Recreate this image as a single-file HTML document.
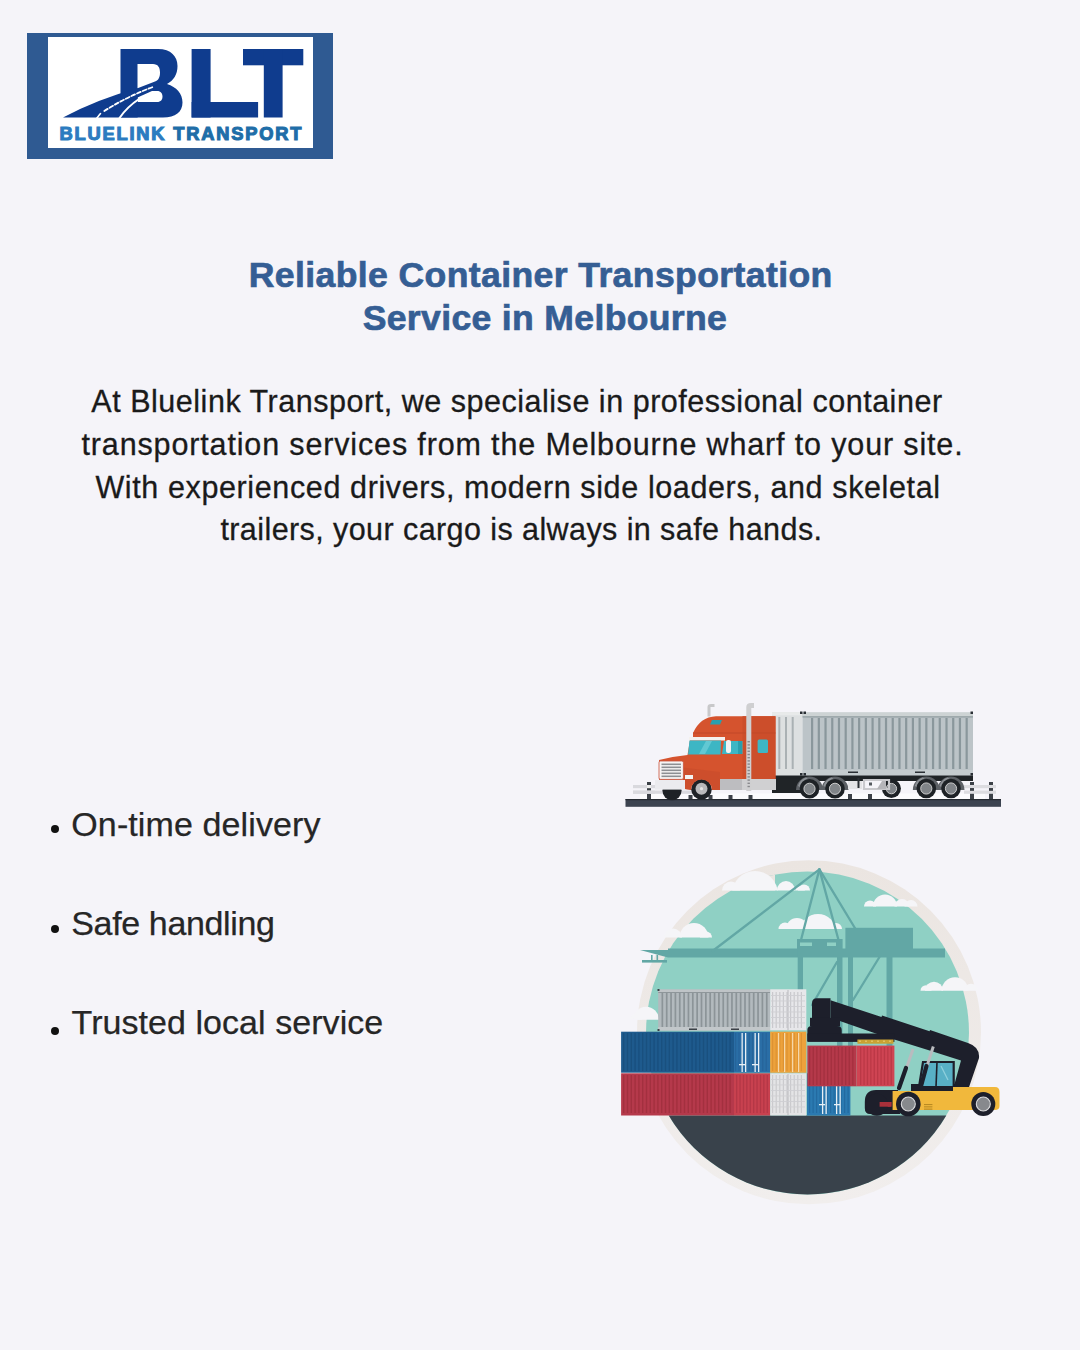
<!DOCTYPE html>
<html><head><meta charset="utf-8">
<style>
html,body{margin:0;padding:0;}
body{width:1080px;height:1350px;background:#f5f4f9;position:relative;overflow:hidden;font-family:"Liberation Sans",sans-serif;}
.abs{position:absolute;white-space:nowrap;}
.h{color:#355e94;font-weight:bold;font-size:35.6px;line-height:1;-webkit-text-stroke:0.7px #355e94;}
.p{color:#1a1a1a;font-size:30.5px;line-height:1;-webkit-text-stroke:0.3px #1a1a1a;}
.li{color:#262626;font-size:34px;line-height:1;-webkit-text-stroke:0.25px #262626;}
.dot{position:absolute;width:8.4px;height:8.2px;border-radius:50%;background:#111;}
</style></head>
<body>
<!-- logo -->
<svg class="abs" style="left:0;top:0" width="1080" height="1350" viewBox="0 0 1080 1350">
<rect x="27" y="33" width="306" height="126" fill="#2f5a92"/>
<rect x="48" y="37" width="265" height="111" fill="#ffffff"/>
<g fill="#0f3c8e">
<path fill-rule="evenodd" d="M120.5,49 H158 C171,49 177.5,56.5 177.5,66 C177.5,74.5 173.5,80.5 167,84 C176.5,87 182.5,93.5 182.5,102.5 C182.5,112 175.5,117.5 163,117.5 H120.5 Z M137.5,64 H153 C158,64 160,67.5 160,72.5 C160,77 158.5,80.5 155,81.5 L137.5,88.3 Z M137.5,97.5 L152,91 H157 C161,91 162.5,93.5 162.5,96.5 C162.5,99.5 161,102 157,102 H137.5 Z"/>
<path d="M63,117.5 Q98,99 137.6,88.3 L137.6,117.5 Z"/>
<rect x="191.6" y="49" width="19" height="68.5"/>
<rect x="191.6" y="102" width="66.5" height="15.5"/>
<rect x="243" y="49" width="60.3" height="16.3"/>
<rect x="263.8" y="49" width="18.8" height="68.5"/>
</g>
<g stroke="#ffffff" fill="none" stroke-linecap="round">
<path d="M119.5,118 Q127,107 139,99" stroke-width="2"/>
<path d="M104.3,111 Q127,96.5 153,87" stroke-width="1.8" stroke-dasharray="4 2.2"/>
<path d="M96.5,118.5 L100.5,113.5" stroke-width="1.6"/>
</g>
<text x="59.5" y="139.5" font-family="Liberation Sans" font-weight="bold" font-size="18.3" fill="#2b7cc0" stroke="#2b7cc0" stroke-width="1.1" letter-spacing="1.8">BLUELINK <tspan fill="#1f6ea8" stroke="#1f6ea8">TRANSPORT</tspan></text>
</svg>

<!-- truck -->
<svg class="abs" style="left:0;top:0" width="1080" height="1350" viewBox="0 0 1080 1350">
<!-- light band -->
<rect x="640" y="793.5" width="345" height="5.5" fill="#fbfbfd"/>
<!-- left rail -->
<rect x="633" y="785" width="60" height="3.2" fill="#d9d9de"/>
<rect x="633" y="790.6" width="60" height="3.2" fill="#d9d9de"/>
<rect x="647" y="782" width="4" height="17" fill="#3c4148"/>
<rect x="647" y="785" width="4" height="3.2" fill="#eeeeee"/>
<rect x="647" y="790.6" width="4" height="3.2" fill="#eeeeee"/>
<!-- right rail -->
<rect x="970" y="782" width="4" height="17" fill="#3c4148"/>
<rect x="989" y="782" width="4" height="17" fill="#3c4148"/>
<rect x="964" y="785" width="32" height="3.2" fill="#dcdce0"/>
<rect x="964" y="790.6" width="32" height="3.2" fill="#dcdce0"/>
<g fill="#3c4148"><rect x="970" y="783.6" width="4" height="1.4"/><rect x="989" y="783.6" width="4" height="1.4"/><rect x="970" y="788.2" width="4" height="2.4"/><rect x="989" y="788.2" width="4" height="2.4"/></g>
<!-- posts -->
<g fill="#3c4148">
<rect x="688.5" y="795" width="4" height="4"/><rect x="708.5" y="795" width="4" height="4"/><rect x="728.5" y="795" width="4" height="4"/><rect x="748.5" y="795" width="4" height="4"/>
<rect x="848" y="794" width="4" height="5"/><rect x="868" y="794" width="4" height="5"/>
</g>
<!-- road -->
<rect x="625.5" y="799" width="375.5" height="7.8" fill="#3c4350"/>
<rect x="625.5" y="799" width="375.5" height="1.2" fill="#252a31"/>
<!-- containers -->
<rect x="772" y="712.3" width="30.5" height="63.5" fill="#dde0e1"/>
<rect x="778.30" y="717" width="2" height="52" fill="#aab1b4"/><rect x="785.00" y="717" width="2" height="52" fill="#aab1b4"/><rect x="791.70" y="717" width="2" height="52" fill="#aab1b4"/>
<rect x="772" y="712.3" width="30.5" height="3" fill="#e8eaea"/>
<rect x="802.5" y="712.5" width="170.5" height="63" fill="#bcc4c8"/>
<rect x="802.5" y="712.5" width="170.5" height="4" fill="#cdd3d4"/>
<rect x="802.5" y="716.3" width="170.5" height="1.2" fill="#8e9a9e"/>
<rect x="802.5" y="770" width="170.5" height="5.5" fill="#c5cccf"/>
<rect x="811.00" y="718" width="2.2" height="51" fill="#8a979c"/><rect x="817.72" y="718" width="2.2" height="51" fill="#8a979c"/><rect x="824.44" y="718" width="2.2" height="51" fill="#8a979c"/><rect x="831.16" y="718" width="2.2" height="51" fill="#8a979c"/><rect x="837.88" y="718" width="2.2" height="51" fill="#8a979c"/><rect x="844.60" y="718" width="2.2" height="51" fill="#8a979c"/><rect x="851.32" y="718" width="2.2" height="51" fill="#8a979c"/><rect x="858.04" y="718" width="2.2" height="51" fill="#8a979c"/><rect x="864.76" y="718" width="2.2" height="51" fill="#8a979c"/><rect x="871.48" y="718" width="2.2" height="51" fill="#8a979c"/><rect x="878.20" y="718" width="2.2" height="51" fill="#8a979c"/><rect x="884.92" y="718" width="2.2" height="51" fill="#8a979c"/><rect x="891.64" y="718" width="2.2" height="51" fill="#8a979c"/><rect x="898.36" y="718" width="2.2" height="51" fill="#8a979c"/><rect x="905.08" y="718" width="2.2" height="51" fill="#8a979c"/><rect x="911.80" y="718" width="2.2" height="51" fill="#8a979c"/><rect x="918.52" y="718" width="2.2" height="51" fill="#8a979c"/><rect x="925.24" y="718" width="2.2" height="51" fill="#8a979c"/><rect x="931.96" y="718" width="2.2" height="51" fill="#8a979c"/><rect x="938.68" y="718" width="2.2" height="51" fill="#8a979c"/><rect x="945.40" y="718" width="2.2" height="51" fill="#8a979c"/><rect x="952.12" y="718" width="2.2" height="51" fill="#8a979c"/><rect x="958.84" y="718" width="2.2" height="51" fill="#8a979c"/><rect x="965.56" y="718" width="2.2" height="51" fill="#8a979c"/>
<g fill="#2a2f35">
<rect x="800" y="711.5" width="2.5" height="2.5"/><rect x="803.5" y="711.5" width="2.5" height="2.5"/><rect x="970.5" y="711.5" width="2.5" height="2.5"/>
<rect x="800" y="773" width="2.5" height="2.5"/><rect x="803.5" y="773" width="2.5" height="2.5"/><rect x="970.5" y="773" width="2.5" height="2.5"/>
<rect x="848" y="771.5" width="10" height="1.5"/><rect x="915" y="771.5" width="10" height="1.5"/>
</g>
<!-- chassis -->
<rect x="772" y="775.5" width="201" height="5.5" fill="#1f2326"/>
<rect x="772" y="779" width="40" height="14" fill="#202427"/>

<!-- wheels -->
<g fill="#5d6166">
<path d="M796,790 A13.5,13.5 0 0 1 823,790 Z"/>
<path d="M821.5,790 A13.5,13.5 0 0 1 848.5,790 Z"/>
<path d="M912.8,790 A13.5,13.5 0 0 1 939.8,790 Z"/>
<path d="M937.5,790 A13.5,13.5 0 0 1 964.5,790 Z"/>
</g>
<g fill="#8d9196">
<path d="M798,786 A12,12 0 0 1 806,777.5 L808,779 A10,10 0 0 0 800,787 Z"/>
<path d="M823.5,786 A12,12 0 0 1 831.5,777.5 L833.5,779 A10,10 0 0 0 825.5,787 Z"/>
<path d="M914.8,786 A12,12 0 0 1 922.8,777.5 L924.8,779 A10,10 0 0 0 916.8,787 Z"/>
<path d="M939.5,786 A12,12 0 0 1 947.5,777.5 L949.5,779 A10,10 0 0 0 941.5,787 Z"/>
</g>
<g fill="#1e2226">
<circle cx="672" cy="790.6" r="9.6"/>
<circle cx="701.5" cy="789.3" r="10.3"/>
<circle cx="809.5" cy="788.8" r="9.8"/><circle cx="835" cy="788.8" r="9.8"/>
<circle cx="891.4" cy="788.6" r="9.5"/>
<circle cx="926.3" cy="788.5" r="9.8"/><circle cx="951" cy="788.5" r="9.8"/>
</g>
<g fill="#808488" stroke="#d8d8d8" stroke-width="0.9">
<circle cx="809.5" cy="788.8" r="5.6"/><circle cx="835" cy="788.8" r="5.6"/>
<circle cx="891.4" cy="788.6" r="5.2"/>
<circle cx="926.3" cy="788.5" r="5.6"/><circle cx="951" cy="788.5" r="5.6"/>
</g>
<circle cx="701.5" cy="788.7" r="6" fill="#b9b9bb"/>
<circle cx="701.5" cy="788.7" r="1.6" fill="#e6e6e6"/>
<rect x="848" y="781" width="14" height="8" fill="#e4e4e6"/>
<rect x="857.5" y="778" width="2" height="10" fill="#2a2e33"/>
<path d="M864,780 L889,780 L889,789 L864,789 Z" fill="none" stroke="#c9c9cd" stroke-width="2.2"/>
<path d="M877,789 L882,781 L886,781 L886,789 Z" fill="#b5b5b9"/>
<rect x="869" y="782.5" width="3" height="3" fill="#555a60"/>
<!-- bumper -->
<rect x="655" y="780" width="36" height="9.6" fill="#ebebef"/>
<rect x="633" y="790.6" width="22" height="3.2" fill="#d9d9de"/>
<!-- cab -->
<path d="M693,733 Q700,717 716,716.2 L775.5,716.2 L775.5,779 L720,779 L720,790 L712,790 A10.5,10.5 0 0 0 691,790 L685,789 L685,780 L659,780 L659,760 Q672,756.5 687.5,755 L690,740 L693,738 Z" fill="#d5532e"/>
<path d="M659,766 L687,768 L720,772 L720,790 L712,790 A10.5,10.5 0 0 0 691,790 L685,789 L685,780 L659,780 Z" fill="#c54a29" opacity="0.5"/>
<rect x="742.5" y="716.2" width="33" height="63" fill="#cc4e2b"/>
<path d="M693,733 L775.5,733" stroke="#c14829" stroke-width="1"/>
<rect x="689" y="737" width="36" height="3.5" fill="#f4f1ee"/>
<path d="M689.5,740.5 L721,740.5 L720.5,754.5 L688,754.5 Z" fill="#3db6c4"/><path d="M706,741 L712,741 L705,754 L699,754 Z" fill="#62c8d3"/>
<path d="M724,741 L742.5,741 L742.5,754 L722,754 Z" fill="#3db6c4"/>
<rect x="738" y="741" width="4" height="13" fill="#2a9fae"/>
<rect x="757.6" y="739.5" width="10.4" height="13.5" rx="1.5" fill="#3db6c4"/>
<rect x="726" y="740" width="5" height="13" rx="2" fill="#f2f2f2"/>
<path d="M712,720 L722,720 L720,724.5 L710,724.5 Z" fill="#2a9fae"/>
<rect x="720" y="779" width="56" height="11" fill="#d0d0d2"/>
<rect x="720" y="779" width="22" height="11" fill="#bdbdc0"/>
<!-- grille -->
<rect x="659" y="761" width="24.4" height="18.4" rx="1.5" fill="#f6f4f4" stroke="#c9503a" stroke-width="0.8"/>
<g fill="#8d8f93"><rect x="661.5" y="763.5" width="19.5" height="1.6"/><rect x="661.5" y="766.5" width="19.5" height="1.6"/><rect x="661.5" y="769.5" width="19.5" height="1.6"/><rect x="661.5" y="772.5" width="19.5" height="1.6"/><rect x="661.5" y="775.5" width="19.5" height="1.6"/></g>
<rect x="685" y="775" width="8" height="4" fill="#f3f3f3"/>
<!-- stacks -->
<path d="M709,716.5 L709,707 Q709,705.5 711,705.5 L714.5,705.5" stroke="#c8c8ca" stroke-width="3" fill="none"/>
<path d="M748.8,791 L748.8,707 Q748.8,705.5 751,705.5 L754,705.5" stroke="#cfcfd1" stroke-width="5" fill="none"/>
<g fill="#8a8a8e"><rect x="747.5" y="741.0" width="2.4" height="1.4"/><rect x="747.5" y="744.2" width="2.4" height="1.4"/><rect x="747.5" y="747.4" width="2.4" height="1.4"/><rect x="747.5" y="750.6" width="2.4" height="1.4"/><rect x="747.5" y="753.8" width="2.4" height="1.4"/><rect x="747.5" y="757.0" width="2.4" height="1.4"/><rect x="747.5" y="760.2" width="2.4" height="1.4"/><rect x="747.5" y="763.4" width="2.4" height="1.4"/><rect x="747.5" y="766.6" width="2.4" height="1.4"/><rect x="747.5" y="769.8" width="2.4" height="1.4"/><rect x="747.5" y="773.0" width="2.4" height="1.4"/><rect x="747.5" y="776.2" width="2.4" height="1.4"/><rect x="747.5" y="779.4" width="2.4" height="1.4"/><rect x="747.5" y="782.6" width="2.4" height="1.4"/><rect x="747.5" y="785.8" width="2.4" height="1.4"/></g>
</svg>
<!-- port -->
<svg class="abs" style="left:0;top:0" width="1080" height="1350" viewBox="0 0 1080 1350">
<defs><clipPath id="circ"><circle cx="807.5" cy="1033" r="161.5"/></clipPath></defs>
<linearGradient id="bg1" x1="0" y1="0" x2="0" y2="1"><stop offset="0" stop-color="#ebe5e1"/><stop offset="1" stop-color="#f1eeed"/></linearGradient><circle cx="809" cy="1032.3" r="172" fill="url(#bg1)"/>
<circle cx="807.5" cy="1033" r="161.5" fill="#8fd0c4"/>
<path d="M600,850 L775,850 L775,890.5 L600,890.5 Z" fill="#ebe5e1" clip-path="url(#circ)"/>
<clipPath id="c1"><rect x="720" y="830.5" width="92" height="60"/></clipPath><g fill="#f5f5f8" clip-path="url(#c1)"><circle cx="731" cy="890.5" r="9"/><circle cx="755" cy="894" r="23"/><circle cx="786" cy="890" r="9"/><circle cx="800" cy="891.5" r="5"/><circle cx="804" cy="890.5" r="6"/></g>
<clipPath id="c2"><rect x="662" y="877.5" width="52" height="60"/></clipPath><g fill="#f5f5f8" clip-path="url(#c2)"><circle cx="673" cy="937.5" r="9"/><circle cx="694" cy="937.5" r="14.5"/><circle cx="706" cy="937.5" r="6"/></g>
<clipPath id="c3"><rect x="776.5" y="869" width="67.5" height="60"/></clipPath><g fill="#f5f5f8" clip-path="url(#c3)"><circle cx="785" cy="929" r="6.5"/><circle cx="797" cy="929" r="11"/><circle cx="818" cy="932" r="18"/><circle cx="836" cy="929" r="6"/></g>
<clipPath id="c4"><rect x="862" y="846.5" width="57.5" height="60"/></clipPath><g fill="#f5f5f8" clip-path="url(#c4)"><circle cx="870" cy="906.5" r="6"/><circle cx="885" cy="906.5" r="12"/><circle cx="902" cy="906.5" r="7.5"/><circle cx="911" cy="906.5" r="6.5"/></g>
<clipPath id="c5"><rect x="918.5" y="930.7" width="61.5" height="60"/></clipPath><g fill="#f5f5f8" clip-path="url(#c5)"><circle cx="926" cy="990.7" r="5.5"/><circle cx="934" cy="990.7" r="9"/><circle cx="955" cy="990.7" r="13.5"/><circle cx="971" cy="990.7" r="7"/></g>
<clipPath id="c6"><rect x="628" y="959.8" width="33" height="60"/></clipPath><g fill="#f5f5f8" clip-path="url(#c6)"><circle cx="636" cy="1019.8" r="6"/><circle cx="646" cy="1019.8" r="13"/></g>
<!-- crane -->
<g fill="#62a7a5" stroke="none">
<path d="M640,950 L945,950 L945,957.5 L668,957.5 Z"/><path d="M668,948.6 L945,948.6 L945,950.5 L668,950.5 Z"/>
<rect x="642" y="960" width="25" height="2.6"/>
<rect x="651" y="955" width="1.6" height="5"/><rect x="656.5" y="955" width="1.6" height="5"/>
<rect x="797" y="939" width="45.6" height="11"/>
<rect x="845.4" y="927.8" width="67.6" height="22.2"/>
<rect x="797.7" y="950" width="5.3" height="60"/>
<rect x="837" y="950" width="5.5" height="100"/>
<rect x="848" y="950" width="5" height="100"/>
<rect x="886.5" y="950" width="6" height="100"/>
</g>
<g fill="#8fd0c4"><rect x="800" y="942.5" width="12" height="3.5"/><rect x="827" y="942.5" width="9" height="3.5"/></g>
<g stroke="#62a7a5" stroke-width="2.3" fill="none" stroke-linecap="round">
<path d="M819.4,869.4 L712.6,951"/>
<path d="M819.4,869.4 L801,940"/>
<path d="M819.4,869.4 L838.5,940"/>
<path d="M819.4,869.4 L855.5,929"/>
<path d="M837,962 L812,1005"/>
<path d="M879.5,957 L853,1000"/>
</g>
<!-- ground -->
<path d="M668.7,1115.5 A161.5,161.5 0 0 0 946.3,1115.5 Z" fill="#39424b"/>
<!-- containers -->
<rect x="658.2" y="989.5" width="112" height="41" fill="#b3babe"/>
<rect x="658.2" y="989.5" width="112" height="3" fill="#bfc4c7"/>
<rect x="658.2" y="992" width="112" height="0.9" fill="#8a9196"/>
<g fill="#8c9498"><rect x="661.50" y="993" width="1.7" height="34"/><rect x="665.85" y="993" width="1.7" height="34"/><rect x="670.20" y="993" width="1.7" height="34"/><rect x="674.55" y="993" width="1.7" height="34"/><rect x="678.90" y="993" width="1.7" height="34"/><rect x="683.25" y="993" width="1.7" height="34"/><rect x="687.60" y="993" width="1.7" height="34"/><rect x="691.95" y="993" width="1.7" height="34"/><rect x="696.30" y="993" width="1.7" height="34"/><rect x="700.65" y="993" width="1.7" height="34"/><rect x="705.00" y="993" width="1.7" height="34"/><rect x="709.35" y="993" width="1.7" height="34"/><rect x="713.70" y="993" width="1.7" height="34"/><rect x="718.05" y="993" width="1.7" height="34"/><rect x="722.40" y="993" width="1.7" height="34"/><rect x="726.75" y="993" width="1.7" height="34"/><rect x="731.10" y="993" width="1.7" height="34"/><rect x="735.45" y="993" width="1.7" height="34"/><rect x="739.80" y="993" width="1.7" height="34"/><rect x="744.15" y="993" width="1.7" height="34"/><rect x="748.50" y="993" width="1.7" height="34"/><rect x="752.85" y="993" width="1.7" height="34"/><rect x="757.20" y="993" width="1.7" height="34"/><rect x="761.55" y="993" width="1.7" height="34"/><rect x="765.90" y="993" width="1.7" height="34"/></g>
<rect x="658.2" y="1027" width="112" height="3.5" fill="#c2c7ca"/>
<g fill="#3b4046"><rect x="689" y="1028.5" width="8" height="1.5"/><rect x="731" y="1028.5" width="8" height="1.5"/><rect x="657.5" y="989" width="2" height="2"/><rect x="657.5" y="1029" width="2" height="2"/></g>
<rect x="770.2" y="989.3" width="36.1" height="41" fill="#e7e7ea"/>
<g fill="#c9c9cd"><rect x="772.00" y="992" width="1.2" height="36"/><rect x="775.60" y="992" width="1.2" height="36"/><rect x="779.20" y="992" width="1.2" height="36"/><rect x="782.80" y="992" width="1.2" height="36"/><rect x="786.40" y="992" width="1.2" height="36"/><rect x="790.00" y="992" width="1.2" height="36"/><rect x="793.60" y="992" width="1.2" height="36"/><rect x="797.20" y="992" width="1.2" height="36"/><rect x="800.80" y="992" width="1.2" height="36"/></g>
<rect x="787.5" y="990" width="1" height="40" fill="#b9b9bd"/><rect x="771" y="995.0" width="34" height="0.9" fill="#cfcfd3"/><rect x="771" y="1000.5" width="34" height="0.9" fill="#cfcfd3"/><rect x="771" y="1006.0" width="34" height="0.9" fill="#cfcfd3"/><rect x="771" y="1011.5" width="34" height="0.9" fill="#cfcfd3"/><rect x="771" y="1017.0" width="34" height="0.9" fill="#cfcfd3"/><rect x="771" y="1022.5" width="34" height="0.9" fill="#cfcfd3"/>
<rect x="621.1" y="1031.7" width="112.9" height="41" fill="#1e5a8d"/>
<g fill="#19507f"><rect x="623.00" y="1033" width="1.4" height="38"/><rect x="626.80" y="1033" width="1.4" height="38"/><rect x="630.60" y="1033" width="1.4" height="38"/><rect x="634.40" y="1033" width="1.4" height="38"/><rect x="638.20" y="1033" width="1.4" height="38"/><rect x="642.00" y="1033" width="1.4" height="38"/><rect x="645.80" y="1033" width="1.4" height="38"/><rect x="649.60" y="1033" width="1.4" height="38"/><rect x="653.40" y="1033" width="1.4" height="38"/><rect x="657.20" y="1033" width="1.4" height="38"/><rect x="661.00" y="1033" width="1.4" height="38"/><rect x="664.80" y="1033" width="1.4" height="38"/><rect x="668.60" y="1033" width="1.4" height="38"/><rect x="672.40" y="1033" width="1.4" height="38"/><rect x="676.20" y="1033" width="1.4" height="38"/><rect x="680.00" y="1033" width="1.4" height="38"/><rect x="683.80" y="1033" width="1.4" height="38"/><rect x="687.60" y="1033" width="1.4" height="38"/><rect x="691.40" y="1033" width="1.4" height="38"/><rect x="695.20" y="1033" width="1.4" height="38"/><rect x="699.00" y="1033" width="1.4" height="38"/><rect x="702.80" y="1033" width="1.4" height="38"/><rect x="706.60" y="1033" width="1.4" height="38"/><rect x="710.40" y="1033" width="1.4" height="38"/><rect x="714.20" y="1033" width="1.4" height="38"/><rect x="718.00" y="1033" width="1.4" height="38"/><rect x="721.80" y="1033" width="1.4" height="38"/><rect x="725.60" y="1033" width="1.4" height="38"/><rect x="729.40" y="1033" width="1.4" height="38"/></g>
<rect x="734" y="1031.7" width="36.2" height="41" fill="#2a6ea6"/>
<g fill="#26649a"><rect x="735.00" y="1033" width="1.2" height="38"/><rect x="738.40" y="1033" width="1.2" height="38"/><rect x="741.80" y="1033" width="1.2" height="38"/><rect x="745.20" y="1033" width="1.2" height="38"/><rect x="748.60" y="1033" width="1.2" height="38"/><rect x="752.00" y="1033" width="1.2" height="38"/><rect x="755.40" y="1033" width="1.2" height="38"/><rect x="758.80" y="1033" width="1.2" height="38"/><rect x="762.20" y="1033" width="1.2" height="38"/><rect x="765.60" y="1033" width="1.2" height="38"/></g>
<g fill="#e8f0f6"><rect x="741.5" y="1033" width="1.3" height="39"/><rect x="745" y="1033" width="1.3" height="39"/><rect x="754.5" y="1033" width="1.3" height="39"/><rect x="758" y="1033" width="1.3" height="39"/>
<rect x="739" y="1064" width="6" height="1.3"/><rect x="752" y="1064" width="6" height="1.3"/></g>
<rect x="770.2" y="1031.7" width="36.1" height="41" fill="#eda23b"/>
<g fill="#dd9232"><rect x="772.00" y="1033" width="1.2" height="38"/><rect x="775.60" y="1033" width="1.2" height="38"/><rect x="779.20" y="1033" width="1.2" height="38"/><rect x="782.80" y="1033" width="1.2" height="38"/><rect x="786.40" y="1033" width="1.2" height="38"/><rect x="790.00" y="1033" width="1.2" height="38"/><rect x="793.60" y="1033" width="1.2" height="38"/><rect x="797.20" y="1033" width="1.2" height="38"/><rect x="800.80" y="1033" width="1.2" height="38"/></g>
<g fill="#f6d7a8"><rect x="778" y="1033" width="1.2" height="39"/><rect x="784" y="1033" width="1.2" height="39"/><rect x="792" y="1033" width="1.2" height="39"/><rect x="798" y="1033" width="1.2" height="39"/></g>
<rect x="621.1" y="1073.3" width="112.9" height="42.2" fill="#b5394b"/>
<g fill="#a3303f"><rect x="623.00" y="1075" width="1.4" height="38"/><rect x="626.80" y="1075" width="1.4" height="38"/><rect x="630.60" y="1075" width="1.4" height="38"/><rect x="634.40" y="1075" width="1.4" height="38"/><rect x="638.20" y="1075" width="1.4" height="38"/><rect x="642.00" y="1075" width="1.4" height="38"/><rect x="645.80" y="1075" width="1.4" height="38"/><rect x="649.60" y="1075" width="1.4" height="38"/><rect x="653.40" y="1075" width="1.4" height="38"/><rect x="657.20" y="1075" width="1.4" height="38"/><rect x="661.00" y="1075" width="1.4" height="38"/><rect x="664.80" y="1075" width="1.4" height="38"/><rect x="668.60" y="1075" width="1.4" height="38"/><rect x="672.40" y="1075" width="1.4" height="38"/><rect x="676.20" y="1075" width="1.4" height="38"/><rect x="680.00" y="1075" width="1.4" height="38"/><rect x="683.80" y="1075" width="1.4" height="38"/><rect x="687.60" y="1075" width="1.4" height="38"/><rect x="691.40" y="1075" width="1.4" height="38"/><rect x="695.20" y="1075" width="1.4" height="38"/><rect x="699.00" y="1075" width="1.4" height="38"/><rect x="702.80" y="1075" width="1.4" height="38"/><rect x="706.60" y="1075" width="1.4" height="38"/><rect x="710.40" y="1075" width="1.4" height="38"/><rect x="714.20" y="1075" width="1.4" height="38"/><rect x="718.00" y="1075" width="1.4" height="38"/><rect x="721.80" y="1075" width="1.4" height="38"/><rect x="725.60" y="1075" width="1.4" height="38"/><rect x="729.40" y="1075" width="1.4" height="38"/></g>
<rect x="734" y="1073.3" width="36.2" height="42.2" fill="#c8414f"/>
<g fill="#b43746"><rect x="736.00" y="1075" width="1.3" height="38"/><rect x="739.40" y="1075" width="1.3" height="38"/><rect x="742.80" y="1075" width="1.3" height="38"/><rect x="746.20" y="1075" width="1.3" height="38"/><rect x="749.60" y="1075" width="1.3" height="38"/><rect x="753.00" y="1075" width="1.3" height="38"/><rect x="756.40" y="1075" width="1.3" height="38"/><rect x="759.80" y="1075" width="1.3" height="38"/><rect x="763.20" y="1075" width="1.3" height="38"/><rect x="766.60" y="1075" width="1.3" height="38"/></g>
<rect x="770.2" y="1073.3" width="36.1" height="42.2" fill="#e4e4e6"/>
<g fill="#cacacd"><rect x="772.00" y="1075" width="1.2" height="38"/><rect x="775.60" y="1075" width="1.2" height="38"/><rect x="779.20" y="1075" width="1.2" height="38"/><rect x="782.80" y="1075" width="1.2" height="38"/><rect x="786.40" y="1075" width="1.2" height="38"/><rect x="790.00" y="1075" width="1.2" height="38"/><rect x="793.60" y="1075" width="1.2" height="38"/><rect x="797.20" y="1075" width="1.2" height="38"/><rect x="800.80" y="1075" width="1.2" height="38"/></g>
<rect x="787.5" y="1074" width="1" height="41" fill="#b9b9bd"/><rect x="771" y="1079.0" width="34" height="0.9" fill="#cfcfd3"/><rect x="771" y="1084.5" width="34" height="0.9" fill="#cfcfd3"/><rect x="771" y="1090.0" width="34" height="0.9" fill="#cfcfd3"/><rect x="771" y="1095.5" width="34" height="0.9" fill="#cfcfd3"/><rect x="771" y="1101.0" width="34" height="0.9" fill="#cfcfd3"/><rect x="771" y="1106.5" width="34" height="0.9" fill="#cfcfd3"/>
<rect x="807" y="1073.3" width="43.4" height="42.2" fill="#2b7ab1"/>
<g fill="#236aa0"><rect x="809.00" y="1075" width="1.2" height="38"/><rect x="812.50" y="1075" width="1.2" height="38"/><rect x="816.00" y="1075" width="1.2" height="38"/><rect x="819.50" y="1075" width="1.2" height="38"/><rect x="823.00" y="1075" width="1.2" height="38"/><rect x="826.50" y="1075" width="1.2" height="38"/><rect x="830.00" y="1075" width="1.2" height="38"/><rect x="833.50" y="1075" width="1.2" height="38"/><rect x="837.00" y="1075" width="1.2" height="38"/><rect x="840.50" y="1075" width="1.2" height="38"/><rect x="844.00" y="1075" width="1.2" height="38"/><rect x="847.50" y="1075" width="1.2" height="38"/></g>
<g fill="#e8f0f6"><rect x="822" y="1075" width="1.3" height="39"/><rect x="825.5" y="1075" width="1.3" height="39"/><rect x="836" y="1075" width="1.3" height="39"/><rect x="839.5" y="1075" width="1.3" height="39"/>
<rect x="819" y="1104" width="6" height="1.3"/><rect x="834" y="1104" width="6" height="1.3"/></g>
<!-- held container -->
<rect x="807.4" y="1045.6" width="49.1" height="40.7" fill="#b5394a"/>
<g fill="#a3303f"><rect x="809.00" y="1047" width="1.3" height="38"/><rect x="812.60" y="1047" width="1.3" height="38"/><rect x="816.20" y="1047" width="1.3" height="38"/><rect x="819.80" y="1047" width="1.3" height="38"/><rect x="823.40" y="1047" width="1.3" height="38"/><rect x="827.00" y="1047" width="1.3" height="38"/><rect x="830.60" y="1047" width="1.3" height="38"/><rect x="834.20" y="1047" width="1.3" height="38"/><rect x="837.80" y="1047" width="1.3" height="38"/><rect x="841.40" y="1047" width="1.3" height="38"/><rect x="845.00" y="1047" width="1.3" height="38"/><rect x="848.60" y="1047" width="1.3" height="38"/><rect x="852.20" y="1047" width="1.3" height="38"/></g>
<rect x="856.5" y="1045.6" width="37.9" height="40.7" fill="#cf4453"/>
<g fill="#bb3846"><rect x="860.00" y="1047" width="1.3" height="38"/><rect x="863.40" y="1047" width="1.3" height="38"/><rect x="866.80" y="1047" width="1.3" height="38"/><rect x="870.20" y="1047" width="1.3" height="38"/><rect x="873.60" y="1047" width="1.3" height="38"/><rect x="877.00" y="1047" width="1.3" height="38"/><rect x="880.40" y="1047" width="1.3" height="38"/><rect x="883.80" y="1047" width="1.3" height="38"/><rect x="887.20" y="1047" width="1.3" height="38"/><rect x="890.60" y="1047" width="1.3" height="38"/></g>
<!-- reach stacker -->
<g fill="#1d1f2b">
<path d="M830.5,1000.2 L881.5,1017 L882,1015.5 L929.6,1031.2 L930,1030 L968,1043 Q980,1047 979,1058 L967,1093 L952,1093 L961,1060.4 L929.6,1050.5 L881.5,1035.5 L830.5,1017.8 Z"/>
<path d="M812,1003 Q812,998.3 817,998.3 L830.5,998.3 L830.5,1021.5 L812,1021.5 Z"/>
<rect x="810" y="1017.8" width="30" height="8.5"/>
<path d="M807.4,1030 Q807.4,1026 812,1026 L837,1026 Q841.7,1026 841.7,1030 L841.7,1041 L807.4,1041 Z"/>
<rect x="807.4" y="1033.5" width="87" height="8.4"/>
<path d="M864.8,1102 Q864.8,1090 876,1090 L898,1090 L900,1114 L870,1114 Q864.8,1114 864.8,1108 Z"/>
<rect x="911" y="1084" width="52" height="9.7"/>
</g>
<rect x="857.4" y="1039.5" width="36.1" height="4.2" fill="#c9a233"/>
<g fill="#e0c060"><rect x="859" y="1040.5" width="2" height="1.5"/><rect x="865" y="1040.5" width="2" height="1.5"/><rect x="871" y="1040.5" width="2" height="1.5"/><rect x="877" y="1040.5" width="2" height="1.5"/><rect x="883" y="1040.5" width="2" height="1.5"/><rect x="889" y="1040.5" width="2" height="1.5"/></g>
<path d="M923,1062 L953.7,1062 L953.7,1087 L919,1087 Z" fill="#58b0c6" stroke="#1d1f2b" stroke-width="2.2"/>
<path d="M937,1062 L936,1087" stroke="#1d1f2b" stroke-width="1.6"/>
<path d="M941,1066 L948,1080" stroke="#8fcfdc" stroke-width="1.2"/>
<g stroke="#b9bbbf" stroke-width="3"><path d="M913,1049 L905.5,1071"/><path d="M933.3,1046.5 L926,1069"/></g>
<g stroke="#1d1f2b" stroke-width="4.2" stroke-linecap="round"><path d="M906,1068 L899,1088"/><path d="M926.5,1066 L920.5,1088"/></g>
<path d="M892.6,1091 L953,1091 L953,1087 L995,1087 Q999.5,1087 999.5,1092 L999.5,1106 Q999.5,1110 995,1110 L892.6,1110 Z" fill="#f1b83c"/>
<rect x="911" y="1086" width="42" height="5" fill="#1d1f2b"/>
<g fill="#b98a22"><rect x="924" y="1104" width="8.4" height="1.1"/><rect x="924" y="1106.3" width="8.4" height="1.1"/><rect x="924" y="1108.6" width="8.4" height="1.1"/></g>
<rect x="879.6" y="1102" width="12" height="4.7" fill="#b3323e"/>
<g fill="#1d1f2b"><circle cx="876.9" cy="1104.8" r="11"/><circle cx="908.3" cy="1104" r="12.3"/><circle cx="983.3" cy="1104" r="12"/></g>
<rect x="879.6" y="1102" width="11" height="4.7" fill="#a8303a"/>
<g fill="#87898d" stroke="#dadadc" stroke-width="1.1"><circle cx="908.3" cy="1104" r="7"/><circle cx="983.3" cy="1104" r="7"/></g>
</svg>
<div id="h1" class="abs h" style="left:248.7px;top:258px;letter-spacing:0.384px">Reliable Container Transportation</div>
<div id="h2" class="abs h" style="left:362.7px;top:300.7px;letter-spacing:0.332px">Service in Melbourne</div>

<div id="p1" class="abs p" style="left:91.3px;top:386px;letter-spacing:0.523px">At Bluelink Transport, we specialise in professional container</div>
<div id="p2" class="abs p" style="left:81.5px;top:428.6px;letter-spacing:0.856px">transportation services from the Melbourne wharf to your site.</div>
<div id="p3" class="abs p" style="left:95.4px;top:471.6px;letter-spacing:0.621px">With experienced drivers, modern side loaders, and skeletal</div>
<div id="p4" class="abs p" style="left:220.4px;top:514.4px;letter-spacing:0.42px">trailers, your cargo is always in safe hands.</div>

<div class="dot" style="left:51px;top:825px;"></div>
<div id="l1" class="abs li" style="left:71.3px;top:806.6px;letter-spacing:0.113px">On-time delivery</div>
<div class="dot" style="left:51px;top:925px;"></div>
<div id="l2" class="abs li" style="left:71.3px;top:905.5px;letter-spacing:-0.367px">Safe handling</div>
<div class="dot" style="left:51px;top:1027px;"></div>
<div id="l3" class="abs li" style="left:71.6px;top:1005px;letter-spacing:0.055px">Trusted local service</div>

</body></html>
